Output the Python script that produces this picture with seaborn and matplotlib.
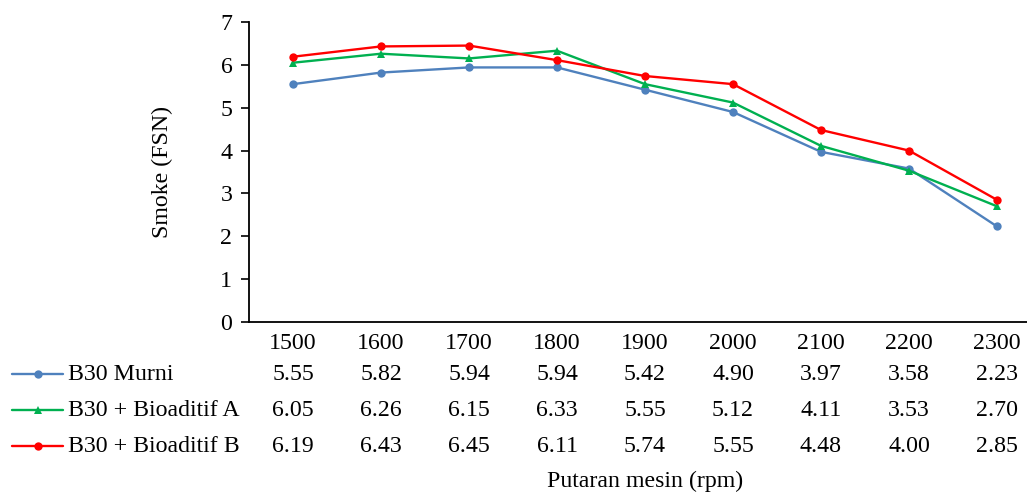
import pandas as pd
import seaborn as sns
import matplotlib.pyplot as plt
from matplotlib.lines import Line2D
from matplotlib.transforms import blended_transform_factory

sns.set_theme(style="white")
plt.rcParams['font.family'] = ['Liberation Serif', 'DejaVu Serif']
plt.rcParams['text.color'] = 'black'

# Smoke (FSN) vs putaran mesin
rpm = [1500, 1600, 1700, 1800, 1900, 2000, 2100, 2200, 2300]
series_names = ["B30 Murni", "B30 + Bioaditif A", "B30 + Bioaditif B"]
murni = [5.55, 5.82, 5.94, 5.94, 5.42, 4.90, 3.97, 3.58, 2.23]
bio_a = [6.05, 6.26, 6.15, 6.33, 5.55, 5.12, 4.11, 3.53, 2.70]
bio_b = [6.19, 6.43, 6.45, 6.11, 5.74, 5.55, 4.48, 4.00, 2.85]

colors = ["#4F81BD", "#00B050", "#FF0000"]
markers = ["o", "^", "o"]

# long-form dataframe
df = pd.concat([
    pd.DataFrame({"rpm": rpm, "smoke": vals, "seri": name})
    for name, vals in zip(series_names, [murni, bio_a, bio_b])
])

W, H = 1027, 493
fig = plt.figure(figsize=(W / 100, H / 100), dpi=100)
ax = fig.add_axes([249 / W, 1 - 322 / H, 792 / W, 300 / H])

sns.lineplot(data=df, x="rpm", y="smoke", hue="seri", style="seri",
             palette=dict(zip(series_names, colors)),
             markers=dict(zip(series_names, markers)), dashes=False,
             linewidth=1.7, markersize=6, markeredgewidth=0,
             legend=False, ax=ax)

fs = 17.2
ax.set_xlim(1450, 2350)
ax.set_ylim(0, 7)
ax.set_yticks(range(0, 8))
ax.set_xticks(rpm)
ax.set_xticklabels([str(r) for r in rpm])
ax.tick_params(axis="x", length=0, pad=8, labelsize=fs, colors="black")
ax.tick_params(axis="y", length=6, width=1.2, direction="out", pad=6,
               labelsize=fs, colors="black", left=True)
ax.set_xlabel("")
ax.set_ylabel("")
for s in ["top", "right"]:
    ax.spines[s].set_visible(False)
for s in ["left", "bottom"]:
    ax.spines[s].set_color("black")
    ax.spines[s].set_linewidth(1.3)

# data table below the axis
trans = blended_transform_factory(ax.transData, fig.transFigure)
row_y = [374, 410, 446]
for name, vals, c, m, yp in zip(series_names, [murni, bio_a, bio_b], colors, markers, row_y):
    yf = 1 - yp / H
    fig.add_artist(Line2D([12 / W, 63 / W], [yf, yf], color=c, lw=1.7,
                          transform=fig.transFigure))
    fig.add_artist(Line2D([37.5 / W], [yf], color=c, marker=m, markersize=6,
                          markeredgewidth=0, transform=fig.transFigure))
    fig.text(68 / W, yf, name, fontsize=fs, va="center", ha="left")
    for x, v in zip(rpm, vals):
        ax.text(x, yf, f"{v:.2f}", transform=trans, fontsize=fs,
                va="center", ha="center")

fig.text(645 / W, 1 - 481 / H, "Putaran mesin (rpm)", fontsize=fs,
         ha="center", va="center")
fig.text(162 / W, 1 - 172 / H, "Smoke (FSN)", fontsize=fs, rotation=90,
         ha="center", va="center")

fig.savefig("out.png", dpi=100)
